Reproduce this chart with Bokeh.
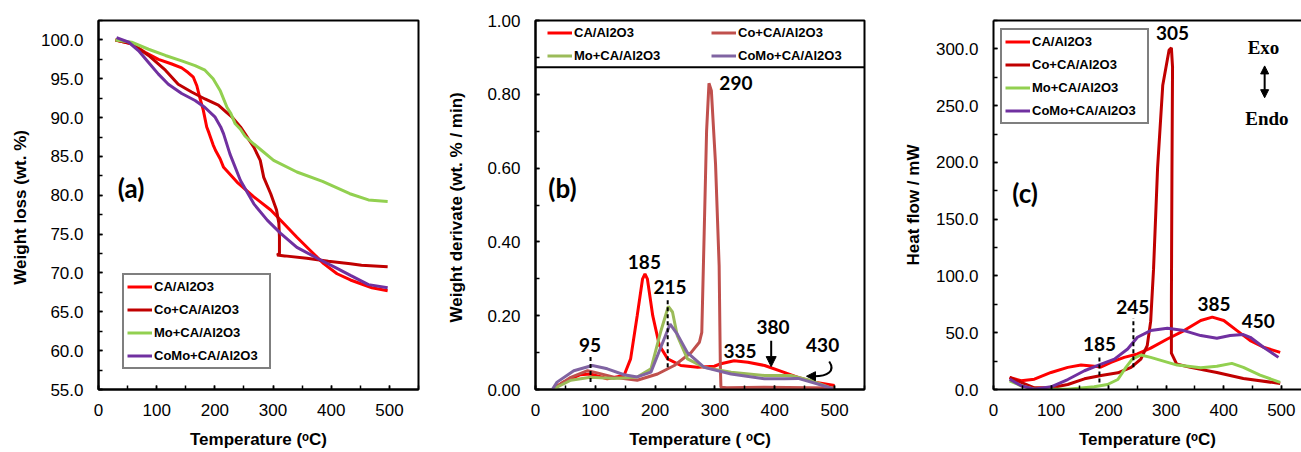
from bokeh.plotting import figure
from bokeh.layouts import row
from bokeh.models import (Range1d, SingleIntervalTicker, NumeralTickFormatter, Legend, LegendItem,
                          Arrow, NormalHead, Span, LinearAxis, FixedTicker)
from bokeh.core.properties import value
from bokeh.embed import file_html
from bokeh.resources import INLINE

# ---------------- data ----------------
series = ["CA/Al2O3", "Co+CA/Al2O3", "Mo+CA/Al2O3", "CoMo+CA/Al2O3"]

# (a) TGA weight loss (wt. %) vs temperature (oC)
a_ca_T = [29, 57, 80, 103, 126, 143, 154, 163, 169, 174, 180, 186, 190, 197, 201, 209, 215, 238, 267, 296, 318, 341, 364, 387, 410, 433, 470, 497]
a_ca_W = [100, 99.5, 98.4, 97.5, 96.9, 96.4, 95.8, 95.2, 94.1, 92.6, 91.0, 88.8, 88.0, 86.5, 85.8, 84.7, 83.6, 81.7, 79.8, 78.1, 76.4, 74.6, 72.9, 71.2, 69.9, 69.1, 68.1, 67.7]
a_co_T = [29, 57, 86, 115, 137, 160, 183, 206, 221, 229, 244, 252, 267, 278, 284, 296, 306, 310, 311, 311, 307, 320, 358, 395, 433, 452, 497]
a_co_W = [100, 99.5, 98.0, 96.1, 94.3, 93.3, 92.4, 91.6, 90.6, 90.1, 88.8, 87.9, 86.2, 84.5, 82.3, 80.2, 78.1, 76.4, 74.6, 72.5, 72.3, 72.2, 71.9, 71.5, 71.2, 71.0, 70.8]
a_mo_T = [29, 57, 86, 115, 143, 166, 183, 197, 209, 221, 227, 235, 244, 252, 267, 280, 301, 341, 385, 432, 464, 497]
a_mo_W = [100, 99.7, 98.8, 98.0, 97.3, 96.7, 96.1, 95.0, 93.5, 91.3, 90.6, 89.2, 88.5, 87.6, 86.6, 85.8, 84.5, 83.0, 81.8, 80.2, 79.4, 79.2]
a_como_T = [31, 52, 69, 86, 103, 120, 143, 166, 183, 200, 210, 215, 226, 244, 267, 290, 313, 341, 376, 410, 433, 464, 497]
a_como_W = [100.3, 99.7, 98.6, 97.1, 95.6, 94.3, 93.1, 92.2, 91.3, 90.1, 88.8, 87.9, 85.3, 81.9, 78.9, 76.8, 75.1, 73.3, 71.9, 70.6, 69.7, 68.5, 68.1]

# (b) DTG weight derivative (wt. % / min)
b_ca_T = [28, 47, 75, 92, 120, 148, 159, 170, 179, 183, 187, 196, 207, 221, 243, 271, 299, 310, 332, 355, 383, 411, 439, 467, 500]
b_ca_y = [0, 0.02, 0.04, 0.042, 0.029, 0.038, 0.083, 0.2, 0.30, 0.313, 0.30, 0.2, 0.12, 0.083, 0.065, 0.06, 0.063, 0.07, 0.078, 0.074, 0.065, 0.049, 0.033, 0.02, 0.011]
b_co_T = [28, 59, 87, 103, 131, 170, 204, 232, 260, 274, 278, 282, 286, 290, 294, 301, 307, 309, 310, 320, 383, 500]
b_co_y = [0, 0.033, 0.051, 0.045, 0.033, 0.025, 0.042, 0.065, 0.10, 0.128, 0.155, 0.425, 0.70, 0.83, 0.81, 0.61, 0.335, 0.065, 0.006, 0.005, 0.006, 0.004]
b_mo_T = [28, 59, 92, 131, 170, 193, 209, 222, 229, 237, 254, 282, 327, 383, 427, 461, 497]
b_mo_y = [0, 0.025, 0.033, 0.03, 0.034, 0.056, 0.155, 0.225, 0.21, 0.146, 0.083, 0.06, 0.047, 0.038, 0.038, 0.024, 0.002]
b_como_T = [28, 36, 64, 95, 120, 148, 170, 193, 215, 225, 237, 254, 282, 327, 383, 416, 439, 472, 497]
b_como_y = [0, 0.02, 0.051, 0.065, 0.056, 0.04, 0.034, 0.047, 0.137, 0.177, 0.15, 0.10, 0.06, 0.042, 0.029, 0.029, 0.03, 0.015, 0.002]

# (c) DSC heat flow (mW)
c_ca_T = [28, 48, 71, 100, 129, 152, 175, 187, 204, 227, 250, 273, 302, 331, 360, 380, 400, 423, 446, 469, 498]
c_ca_H = [10.6, 7.7, 9.1, 15, 19.5, 21.5, 20.4, 19.8, 23.9, 28.3, 31.3, 36.5, 44.5, 51.9, 60.8, 63.7, 60.8, 51.9, 43, 37.2, 32.7]
c_co_T = [28, 48, 71, 100, 129, 158, 187, 216, 239, 256, 267, 273, 278, 285, 294, 305, 309, 311, 310, 309, 309, 318, 342, 388, 434, 498]
c_co_H = [10.6, 6.2, 1.5, 1.5, 4.4, 9.4, 12.4, 14.7, 19.5, 26.8, 38.6, 60, 106, 195, 268, 299, 301, 284, 195, 77, 32, 22.5, 19.5, 15, 9.7, 5.3]
c_mo_T = [28, 48, 71, 129, 175, 198, 216, 230, 241, 256, 273, 319, 360, 388, 414, 434, 463, 498]
c_mo_H = [7.7, 3.3, 0.3, 0.3, 2.4, 4.4, 8.8, 19.5, 26.8, 30.4, 28.3, 21.5, 19.2, 20.4, 23, 19.5, 12.7, 6.2]
c_como_T = [28, 48, 71, 100, 129, 158, 187, 210, 233, 250, 273, 302, 331, 360, 388, 411, 434, 446, 469, 495]
c_como_H = [9.1, 3.3, 0.3, 2.4, 8.8, 16.5, 22.4, 26.8, 35.7, 46, 51.9, 54, 51.9, 47.5, 45.1, 47.5, 48.4, 46, 37.2, 28.3]

# peak annotations
b_peak_text = ["95", "185", "215", "290", "335", "380", "430"]
b_peak_x = [91, 182, 225, 335, 342, 397, 480]
b_peak_y = [0.12, 0.345, 0.277, 0.83, 0.105, 0.17, 0.12]
c_peak_text = ["305", "185", "245", "385", "450"]
c_peak_x = [311, 184, 242, 383, 460]
c_peak_y = [314, 40.5, 73, 75, 60.5]
b_dash_x = [92, 221]
b_dash_y0 = [0.02, 0.06]
b_dash_y1 = [0.092, 0.25]
c_dash_x = [184, 243]
c_dash_y0 = [6.2, 19.5]
c_dash_y1 = [28.3, 63]

colors_ac = ["#FF0000", "#C00000", "#92D050", "#7030A0"]
colors_b = ["#FF0000", "#C0504D", "#9BBB59", "#8064A2"]

FONT = "Liberation Sans"
ANN = "Lato"


def make_fig(width, xr, yr, yint, yfmt, ylabel, xlabel, bl, br, ylab_standoff, outline=True):
    p = figure(width=width, height=452, x_range=Range1d(*xr), y_range=Range1d(*yr),
               output_backend="svg", toolbar_location=None,
               min_border_left=bl, min_border_right=br, min_border_top=20, min_border_bottom=63,
               x_axis_label=xlabel, y_axis_label=ylabel)
    p.xgrid.grid_line_color = None
    p.ygrid.grid_line_color = None
    p.background_fill_color = "white"
    p.border_fill_color = "white"
    if outline:
        p.outline_line_color = "black"
        p.outline_line_width = 2
        p.outline_line_alpha = 1
    else:
        p.outline_line_color = None
    p.xaxis.ticker = SingleIntervalTicker(interval=100, num_minor_ticks=2)
    p.yaxis.ticker = SingleIntervalTicker(interval=yint, num_minor_ticks=2)
    p.yaxis.formatter = NumeralTickFormatter(format=yfmt)
    for ax in (p.xaxis[0], p.yaxis[0]):
        ax.axis_line_color = "black"
        ax.axis_line_width = 2
        ax.major_tick_in = 4
        ax.major_tick_out = 0
        ax.minor_tick_in = 4
        ax.minor_tick_out = 0
        ax.major_tick_line_width = 1.5
        ax.minor_tick_line_width = 1.5
        ax.major_tick_line_color = "black"
        ax.minor_tick_line_color = "black"
        ax.major_label_text_font = FONT
        ax.major_label_text_font_size = "17px"
        ax.major_label_text_color = "black"
        ax.axis_label_text_font = FONT
        ax.axis_label_text_font_size = "17px"
        ax.axis_label_text_font_style = "bold"
        ax.axis_label_text_color = "black"
    p.xaxis.major_label_standoff = 14
    p.xaxis.axis_label_standoff = 11
    p.yaxis.major_label_standoff = 15
    p.yaxis.axis_label_standoff = ylab_standoff
    return p


def add_legend(p, renderers, loc, **kw):
    items = [LegendItem(label=s, renderers=[r]) for s, r in zip(series, renderers)]
    leg = Legend(items=items, location=loc, label_text_font=FONT, label_text_font_style="bold",
                 label_text_font_size="13px", label_text_color="black",
                 glyph_width=25, label_standoff=2, margin=0, **kw)
    p.add_layout(leg)
    return leg


# ---------------- (a) ----------------
pa = make_fig(440, (0, 550), (55, 102.5), 5, "0.0", "Weight  loss (wt. %)", "Temperature (ᵒC)",
              98, 22, 8)
ra = []
for T, W, c in zip([a_ca_T, a_co_T, a_mo_T, a_como_T], [a_ca_W, a_co_W, a_mo_W, a_como_W], colors_ac):
    ra.append(pa.line(T, W, line_color=c, line_width=3))
add_legend(pa, ra, (24, 20), padding=3, glyph_height=17, label_height=17, spacing=6, label_width=112,
           border_line_color="black", border_line_width=2, background_fill_color="white")
pa.text(x=[56], y=[80.9], text=["(a)"], text_font=value(ANN), text_font_style="bold",
        text_font_size="26px", text_align="center", text_baseline="middle", text_color="black")

# ---------------- (b) ----------------
pb = make_fig(460, (0, 550), (0, 1.0), 0.2, "0.00", "Weight  derivate (wt. % / min)", "Temperature ( ᵒC)",
              95, 36, 18)
rb = []
for T, Y, c in zip([b_ca_T, b_co_T, b_mo_T, b_como_T], [b_ca_y, b_co_y, b_mo_y, b_como_y], colors_b):
    rb.append(pb.line(T, Y, line_color=c, line_width=3))
add_legend(pb, rb, (12, 322), padding=1, glyph_height=23, label_height=23, spacing=0, label_width=137,
           border_line_color=None, background_fill_color=None, orientation="horizontal", ncols=2)
pb.add_layout(Span(location=0.873, dimension="width", line_color="black", line_width=2))
pb.segment(x0=b_dash_x, y0=b_dash_y0, x1=b_dash_x, y1=b_dash_y1, line_color="black",
           line_width=2, line_dash="4 3")
pb.text(x=b_peak_x, y=b_peak_y, text=b_peak_text, text_font=value(ANN), text_font_style="bold",
        text_font_size="19px", text_align="center", text_baseline="middle", text_color="black")
pb.text(x=[45], y=[0.545], text=["(b)"], text_font=value(ANN), text_font_style="bold",
        text_font_size="26px", text_align="center", text_baseline="middle", text_color="black")
pb.add_layout(Arrow(x_start=394, y_start=0.132, x_end=394, y_end=0.062, line_width=2, line_color="black",
                    end=NormalHead(size=10, fill_color="black", line_color="black")))
pb.bezier(x0=[491], y0=[0.076], x1=[466], y1=[0.036], cx0=[502], cy0=[0.05], cx1=[488], cy1=[0.036],
          line_color="black", line_width=2)
pb.add_layout(Arrow(x_start=468, y_start=0.036, x_end=453, y_end=0.036, line_width=2, line_color="black",
                    end=NormalHead(size=9, fill_color="black", line_color="black")))

# ---------------- (c) ----------------
pc = make_fig(401, (0, 535), (0, 325), 50, "0.0", "Heat flow / mW", "Temperature (ᵒC)",
              92, 0, 10, outline=False)
top_ax = LinearAxis(ticker=FixedTicker(ticks=[]), major_label_text_font_size="0px",
                    axis_line_width=2, axis_line_color="black",
                    major_tick_line_color=None, minor_tick_line_color=None)
pc.add_layout(top_ax, "above")
rc = []
for T, H, c in zip([c_ca_T, c_co_T, c_mo_T, c_como_T], [c_ca_H, c_co_H, c_mo_H, c_como_H], colors_ac):
    rc.append(pc.line(T, H, line_color=c, line_width=3))
add_legend(pc, rc, (7, 265), padding=3, glyph_height=17, label_height=17, spacing=6, label_width=112,
           border_line_color="black", border_line_width=2, background_fill_color="white")
pc.segment(x0=c_dash_x, y0=c_dash_y0, x1=c_dash_x, y1=c_dash_y1, line_color="black",
           line_width=2, line_dash="4 3")
pc.text(x=c_peak_x, y=c_peak_y, text=c_peak_text, text_font=value(ANN), text_font_style="bold",
        text_font_size="19px", text_align="center", text_baseline="middle", text_color="black")
pc.text(x=[55], y=[173], text=["(c)"], text_font=value(ANN), text_font_style="bold",
        text_font_size="26px", text_align="center", text_baseline="middle", text_color="black")
pc.text(x=[469, 475], y=[301, 239], text=["Exo", "Endo"], text_font=value("Liberation Serif"),
        text_font_style="bold", text_font_size="19px", text_align="center", text_baseline="middle",
        text_color="black")
pc.add_layout(Arrow(x_start=471, y_start=257, x_end=471, y_end=285, line_width=2, line_color="black",
                    start=NormalHead(size=8, fill_color="black", line_color="black"),
                    end=NormalHead(size=8, fill_color="black", line_color="black")))

layout = row(pa, pb, pc, spacing=0)
open("out.html", "w").write(file_html(layout, INLINE))
